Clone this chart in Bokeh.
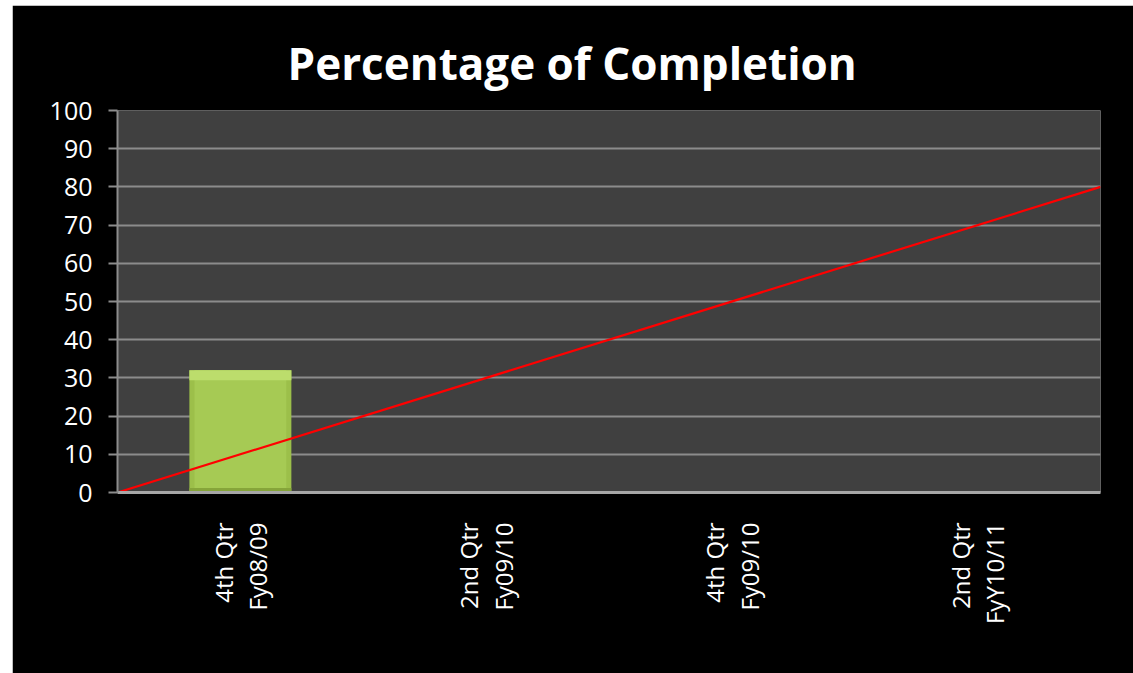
import math

from bokeh.embed import file_html
from bokeh.models import FixedTicker, Range1d
from bokeh.plotting import figure
from bokeh.resources import INLINE

# --- data -------------------------------------------------------------
quarters = ["4th Qtr\nFy08/09", "2nd Qtr\nFy09/10", "4th Qtr\nFy09/10", "2nd Qtr\nFyY10/11"]
completion = [32, None, None, None]          # actual % complete per quarter
target_pos = [-0.5, 3.5]                      # target line runs edge to edge
target_pct = [0, 80]
y_ticks = list(range(0, 101, 10))

# --- geometry ---------------------------------------------------------
FRAME_W, FRAME_H = 983, 382
BORDER_L, BORDER_R, BORDER_T, BORDER_B = 105, 33, 105, 181
X0, X1 = -0.5, len(quarters) - 0.5
Y0, Y1 = 0, 100

FONT = "Open Sans"
GRID = "#8c8c8c"

p = figure(
    frame_width=FRAME_W, frame_height=FRAME_H,
    min_border_left=BORDER_L, min_border_right=BORDER_R,
    min_border_top=BORDER_T, min_border_bottom=BORDER_B,
    x_range=Range1d(X0, X1), y_range=Range1d(Y0, Y1),
    output_backend="svg", toolbar_location=None,
    background_fill_color="#404040", border_fill_color="#000000",
    outline_line_color=None,
    title="Percentage of Completion",
)
p.margin = (5, 0, 0, 12)

# title: centred over the whole chart rather than the plot area
p.title.align = "left"
p.title.offset = 170
p.title.standoff = 35
p.title.text_color = "#ffffff"
p.title.text_font = FONT
p.title.text_font_style = "bold"
p.title.text_font_size = "44px"

# grid
p.xgrid.grid_line_color = None
p.ygrid.ticker = FixedTicker(ticks=y_ticks)
p.ygrid.grid_line_color = GRID
p.ygrid.grid_line_width = 2

# left axis
ya = p.yaxis[0]
ya.ticker = FixedTicker(ticks=y_ticks)
ya.axis_line_color = GRID
ya.axis_line_width = 2
ya.major_tick_line_color = GRID
ya.major_tick_line_width = 2
ya.major_tick_in = 0
ya.major_tick_out = 9
ya.minor_tick_line_color = None
ya.major_label_text_color = "#ffffff"
ya.major_label_text_font = FONT
ya.major_label_text_font_size = "25px"
ya.major_label_standoff = 16

# bottom axis with rotated two-line quarter labels
xa = p.xaxis[0]
xa.ticker = FixedTicker(ticks=list(range(len(quarters))))
xa.major_label_overrides = {i: q for i, q in enumerate(quarters)}
xa.major_label_orientation = math.pi / 2
xa.major_label_standoff = 24
xa.major_label_text_color = "#ffffff"
xa.major_label_text_font = FONT
xa.major_label_text_font_size = "24px"
xa.major_label_text_align = "center"
xa.major_label_text_line_height = 1.05
xa.axis_line_color = "#a6a6a6"
xa.axis_line_width = 3
xa.major_tick_line_color = None
xa.minor_tick_line_color = None

# bars (with a light top bevel and darker foot)
xs = [i for i, v in enumerate(completion) if v is not None]
vals = [v for v in completion if v is not None]
BAR_W = 0.415
p.vbar(x=xs, top=vals, width=BAR_W, fill_color="#9cbf4a", line_color=None)
p.vbar(x=xs, top=vals, width=BAR_W * 0.9, fill_color="#a6ca54", line_color=None)
p.vbar(x=xs, top=vals, bottom=[v - 2.6 for v in vals], width=BAR_W,
       fill_color="#bcdd6c", line_color=None)
p.vbar(x=xs, top=[1.2] * len(xs), width=BAR_W, fill_color="#86a53a", line_color=None)

# target line
p.line(target_pos, target_pct, line_color="#ff0000", line_width=2.2)

open("out.html", "w").write(file_html(p, INLINE))
